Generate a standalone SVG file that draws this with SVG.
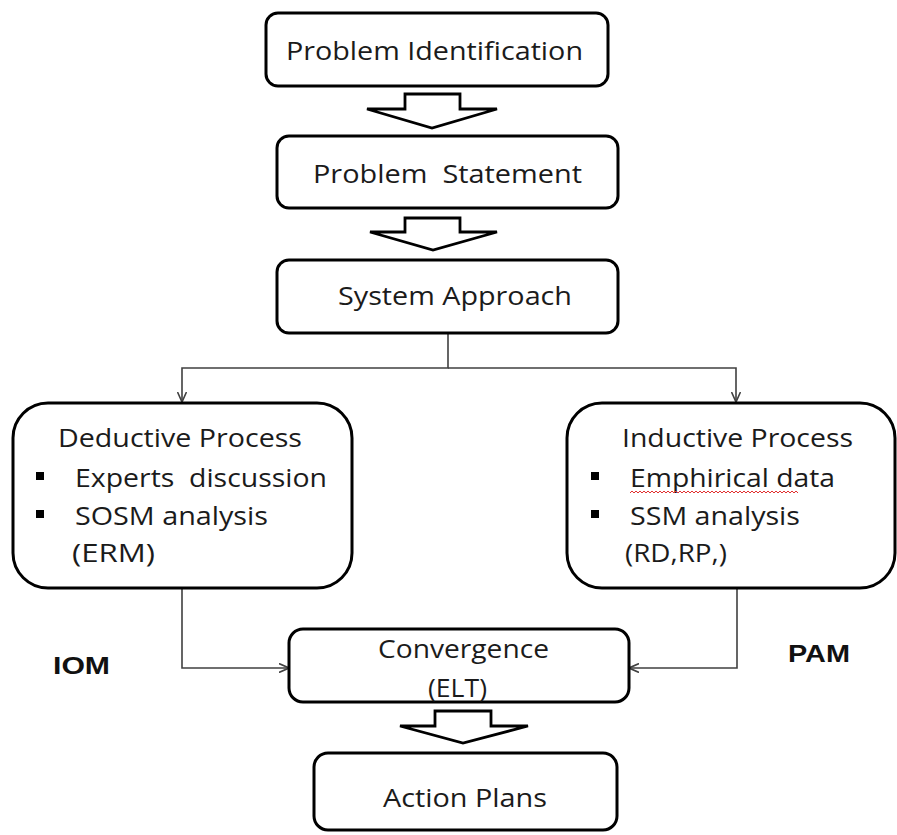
<svg xmlns="http://www.w3.org/2000/svg" width="897" height="835" viewBox="0 0 897 835">
<style>
.box{fill:#fff;stroke:#000;stroke-width:3}
.blk{fill:#fff;stroke:#000;stroke-width:2.8;stroke-linejoin:miter}
.t{font-family:"Open Sans","Liberation Sans",sans-serif;font-size:25px;fill:#1b1b1b}
.b{font-family:"Liberation Sans",Arial,sans-serif;font-size:24px;font-weight:bold;fill:#111}
.con{fill:none;stroke:#404040;stroke-width:1.6}
.bul{fill:#000}
</style>
<defs>
<marker id="open" viewBox="0 0 10 10" refX="10" refY="5" markerWidth="10" markerHeight="10" markerUnits="userSpaceOnUse" orient="auto">
<path d="M0,0.5 L10,5 L0,9.5" fill="none" stroke="#404040" stroke-width="1.6"/>
</marker>
</defs>
<rect width="897" height="835" fill="#fff"/>
<g id="connectors">
<path class="con" d="M448,333 V368 H182 V402" marker-end="url(#open)"/>
<path class="con" d="M448,368 H736 V402" marker-end="url(#open)"/>
<path class="con" d="M182,588 V668 H289" marker-end="url(#open)"/>
<path class="con" d="M737,588 V668 H629" marker-end="url(#open)"/>
<path class="blk" d="M405,94 H460 V109 H497 L432,128 L367,109 H405 Z"/>
<path class="blk" d="M405,218 H460 V232 H497 L433,250 L370,232 H405 Z"/>
<path class="blk" d="M435,711 H491 V726 H528 L463,743 L400,726 H435 Z"/>
</g>
<g id="problem-identification">
<rect class="box" x="266" y="13" width="342" height="73" rx="12"/>
<text class="t" x="286" y="60" textLength="297" lengthAdjust="spacingAndGlyphs">Problem Identification</text>
</g>
<g id="problem-statement">
<rect class="box" x="277" y="136" width="341" height="72" rx="12"/>
<text class="t" x="313" y="183" textLength="269" lengthAdjust="spacingAndGlyphs" xml:space="preserve">Problem  Statement</text>
</g>
<g id="system-approach">
<rect class="box" x="277" y="260" width="341" height="73" rx="12"/>
<text class="t" x="338" y="305" textLength="234" lengthAdjust="spacingAndGlyphs">System Approach</text>
</g>
<g id="deductive-process">
<rect class="box" x="13" y="403" width="339" height="185" rx="35"/>
<text class="t" x="58" y="447" textLength="244" lengthAdjust="spacingAndGlyphs">Deductive Process</text>
<rect class="bul" x="36" y="472" width="8" height="8"/>
<text class="t" x="75" y="487" textLength="252" lengthAdjust="spacingAndGlyphs" xml:space="preserve">Experts  discussion</text>
<rect class="bul" x="36" y="510" width="8" height="8"/>
<text class="t" x="75" y="525" textLength="193" lengthAdjust="spacingAndGlyphs">SOSM analysis</text>
<text class="t" x="72" y="562" textLength="83" lengthAdjust="spacingAndGlyphs">(ERM)</text>
</g>
<g id="inductive-process">
<rect class="box" x="567" y="403" width="328" height="185" rx="35"/>
<text class="t" x="622" y="447" textLength="231" lengthAdjust="spacingAndGlyphs">Inductive Process</text>
<rect class="bul" x="591" y="472" width="8" height="8"/>
<text class="t" x="630" y="487" textLength="205" lengthAdjust="spacingAndGlyphs">Emphirical data</text>
<path d="M630,493 l2,-2 l2,2 l2,-2 l2,2 l2,-2 l2,2 l2,-2 l2,2 l2,-2 l2,2 l2,-2 l2,2 l2,-2 l2,2 l2,-2 l2,2 l2,-2 l2,2 l2,-2 l2,2 l2,-2 l2,2 l2,-2 l2,2 l2,-2 l2,2 l2,-2 l2,2 l2,-2 l2,2 l2,-2 l2,2 l2,-2 l2,2 l2,-2 l2,2 l2,-2 l2,2 l2,-2 l2,2 l2,-2 l2,2 l2,-2 l2,2 l2,-2 l2,2 l2,-2 l2,2 l2,-2 l2,2 l2,-2 l2,2 l2,-2 l2,2 l2,-2 l2,2 l2,-2 l2,2 l2,-2 l2,2 l2,-2 l2,2 l2,-2 l2,2 l2,-2 l2,2 l2,-2 l2,2 l2,-2 l2,2 l2,-2 l2,2 l2,-2 l2,2 l2,-2 l2,2 l2,-2 l2,2 l2,-2 l2,2 l2,-2 l2,2 l2,-2 l2,2" fill="none" stroke="#e03030" stroke-width="1"/>
<rect class="bul" x="591" y="510" width="8" height="8"/>
<text class="t" x="630" y="525" textLength="170" lengthAdjust="spacingAndGlyphs">SSM analysis</text>
<text class="t" x="625" y="562" textLength="102" lengthAdjust="spacingAndGlyphs">(RD,RP,)</text>
</g>
<g id="convergence">
<rect class="box" x="289" y="629" width="340" height="73" rx="14"/>
<text class="t" x="378" y="658" textLength="171" lengthAdjust="spacingAndGlyphs">Convergence</text>
<text class="t" x="428" y="697" textLength="59" lengthAdjust="spacingAndGlyphs">(ELT)</text>
</g>
<g id="action-plans">
<rect class="box" x="314" y="753" width="303" height="77" rx="14"/>
<text class="t" x="383" y="807" textLength="164" lengthAdjust="spacingAndGlyphs">Action Plans</text>
</g>
<g id="iom">
<text class="b" x="53" y="674" textLength="57" lengthAdjust="spacingAndGlyphs">IOM</text>
</g>
<g id="pam">
<text class="b" x="788" y="662" textLength="62" lengthAdjust="spacingAndGlyphs">PAM</text>
</g>
</svg>
